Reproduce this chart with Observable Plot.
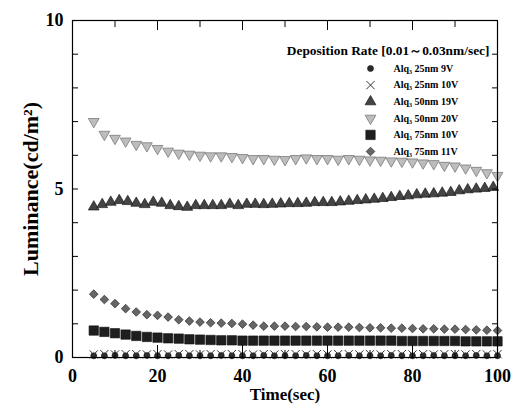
<!DOCTYPE html>
<html><head><meta charset="utf-8">
<script src="https://cdn.jsdelivr.net/npm/d3@7"></script>
<script src="https://cdn.jsdelivr.net/npm/@observablehq/plot@0.6"></script>
<style>body{margin:0;background:#fff}</style>
</head><body><div id="chart"></div>
<script>
// ---- data ----
const time25 = [5,7.5,10,12.5,15,17.5,20,22.5,25,27.5,30,32.5,35,37.5,40,42.5,45,47.5,50,52.5,55,57.5,60,62.5,65,67.5,70,72.5,75,77.5,80,82.5,85,87.5,90,92.5,95,97.5,100];
const time2 = [5,7,9,11,13,15,17,19,21,23,25,27,29,31,33,35,37,39,41,43,45,47,49,51,53,55,57,59,61,63,65,67,69,71,73,75,77,79,81,83,85,87,89,91,93,95,97,99];

const alq25_9V  = [0.05,0.05,0.06,0.05,0.05,0.06,0.05,0.05,0.06,0.05,0.05,0.05,0.06,0.05,0.05,0.05,0.06,0.05,0.05,0.05,0.06,0.05,0.05,0.05,0.06,0.05,0.05,0.05,0.06,0.05,0.05,0.05,0.06,0.05,0.05,0.05,0.06,0.05,0.05];
const alq25_10V = [0.09,0.1,0.09,0.1,0.1,0.09,0.1,0.09,0.1,0.1,0.09,0.1,0.09,0.1,0.1,0.09,0.1,0.09,0.1,0.1,0.09,0.1,0.09,0.1,0.1,0.09,0.1,0.09,0.1,0.1,0.09,0.1,0.09,0.1,0.1,0.09,0.1,0.09,0.1];
const alq50_19V = [4.47,4.54,4.61,4.66,4.63,4.58,4.54,4.61,4.58,4.51,4.48,4.46,4.51,4.51,4.51,4.51,4.55,4.51,4.55,4.55,4.54,4.55,4.56,4.57,4.57,4.58,4.6,4.6,4.6,4.62,4.64,4.66,4.68,4.7,4.72,4.75,4.78,4.8,4.83,4.85,4.86,4.88,4.9,4.95,4.98,5.0,5.02,5.05];
const alq50_20V = [7.0,6.62,6.5,6.42,6.32,6.28,6.2,6.12,6.06,6.03,6.0,5.98,5.98,5.96,5.93,5.9,5.9,5.88,5.87,5.9,5.92,5.9,5.9,5.88,5.9,5.88,5.86,5.85,5.83,5.82,5.8,5.77,5.75,5.7,5.68,5.62,5.55,5.48,5.4];
const alq75_10V = [0.8,0.76,0.72,0.68,0.64,0.61,0.59,0.57,0.56,0.54,0.53,0.52,0.51,0.51,0.5,0.5,0.5,0.5,0.5,0.5,0.5,0.5,0.5,0.5,0.5,0.5,0.5,0.5,0.5,0.49,0.49,0.49,0.49,0.49,0.49,0.48,0.48,0.48,0.48];
const alq75_11V = [1.88,1.72,1.6,1.45,1.35,1.27,1.25,1.2,1.12,1.08,1.05,1.03,1.02,1.01,0.99,0.96,0.93,0.93,0.93,0.92,0.92,0.91,0.9,0.9,0.9,0.89,0.88,0.88,0.87,0.87,0.86,0.85,0.85,0.84,0.84,0.83,0.82,0.81,0.8];

const seriesNames = ["Alq₃ 25nm 9V","Alq₃ 25nm 10V","Alq₃ 50nm 19V","Alq₃ 50nm 20V","Alq₃ 75nm 10V","Alq₃ 75nm 11V"];
const legendTitle = "Deposition Rate [0.01～0.03nm/sec]";
const xTickLabels = [0,20,40,60,80,100];
const xMinorTicks = [10,30,50,70,90];
const yTickLabels = [0,5,10];
const yTicks = [0,1,2,3,4,5,6,7,8,9,10];

// ---- symbols ----
const triDown = {
  draw(context, size) {
    const y = -Math.sqrt(size / (Math.sqrt(3) * 3));
    context.moveTo(0, -y * 2);
    context.lineTo(-Math.sqrt(3) * y, y);
    context.lineTo(Math.sqrt(3) * y, y);
    context.closePath();
  }
};

const styles = [
  {symbol: "circle", r: 3.0, fill: "#2a2a2a", stroke: "#111", strokeWidth: 0.6},
  {symbol: "times", r: 3.8, fill: "none", stroke: "#333", strokeWidth: 1},
  {symbol: "triangle", r: 4.0, fill: "#444", stroke: "#1a1a1a", strokeWidth: 0.7},
  {symbol: triDown, r: 4.0, fill: "#bdbdbd", stroke: "#7a7a7a", strokeWidth: 0.8},
  {symbol: "square", r: 5.3, fill: "#1e1e1e", stroke: "#111", strokeWidth: 0.6},
  {symbol: "diamond2", r: 3.9, fill: "#666", stroke: "#2a2a2a", strokeWidth: 0.7}
];
const seriesData = [
  [time25, alq25_9V], [time25, alq25_10V], [time2, alq50_19V],
  [time25, alq50_20V], [time25, alq75_10V], [time25, alq75_11V]
];

const W = 516, H = 405, ML = 72, MR = 19, MT = 20, MB = 48;
const PW = W - ML - MR, PH = H - MT - MB;

const marks = [];
seriesData.forEach(([xs, ys], i) => {
  const rows = xs.map((x, j) => ({x, y: ys[j]}));
  marks.push(Plot.dot(rows, {x: "x", y: "y", ...styles[i]}));
});
marks.push(Plot.frame({stroke: "#000", strokeWidth: 1.2}));
marks.push(Plot.tickX(xTickLabels, {x: d => d, insetTop: PH - 12, stroke: "#000"}));
marks.push(Plot.tickX(xMinorTicks, {x: d => d, insetTop: PH - 7, stroke: "#000"}));
marks.push(Plot.tickX(xTickLabels, {x: d => d, insetBottom: PH - 10, stroke: "#000"}));
marks.push(Plot.tickX(xMinorTicks, {x: d => d, insetBottom: PH - 7, stroke: "#000"}));
marks.push(Plot.tickY(yTicks, {y: d => d, insetRight: PW - 6, stroke: "#000"}));
marks.push(Plot.tickY(yTicks, {y: d => d, insetLeft: PW - 5, stroke: "#000"}));
marks.push(Plot.axisX(xTickLabels, {tickSize: 0, tickPadding: 12, fontSize: 18, label: null, tickFormat: d => String(d)}));
marks.push(Plot.axisY(yTickLabels, {tickSize: 0, tickPadding: 9, fontSize: 18, label: null, tickFormat: d => String(d)}));
marks.push(Plot.text(["Time(sec)"], {text: d => d, frameAnchor: "bottom", dy: 37, fontSize: 17, lineAnchor: "middle"}));
marks.push(Plot.text(["Luminance(cd/m²)"], {text: d => d, frameAnchor: "left", dx: -42, rotate: -90, fontSize: 22, lineAnchor: "middle", textAnchor: "middle"}));
marks.push(Plot.text([legendTitle], {text: d => d, frameAnchor: "top-right", dx: -8, dy: 30, fontSize: 13.4, textAnchor: "end", lineAnchor: "middle"}));
seriesNames.forEach((name, i) => {
  const dy = 48 + i * 16.6;
  marks.push(Plot.dot([name], {frameAnchor: "top-left", dx: 298, dy, ...styles[i]}));
  marks.push(Plot.text([name], {text: d => d, frameAnchor: "top-left", dx: 321, dy, fontSize: 10, textAnchor: "start", lineAnchor: "middle"}));
});

const chart = Plot.plot({
  width: W, height: H,
  marginLeft: ML, marginRight: MR, marginTop: MT, marginBottom: MB,
  x: {domain: [0, 100]},
  y: {domain: [0, 10]},
  style: {fontFamily: "'Liberation Serif', 'DejaVu Serif', serif", fontWeight: "bold", background: "#fff", color: "#000"},
  marks
});
document.getElementById("chart").appendChild(chart);
</script>
</body></html>
